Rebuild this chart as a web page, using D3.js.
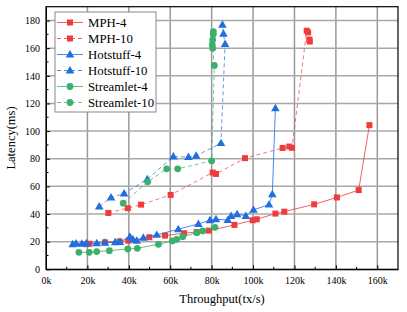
<!DOCTYPE html>
<html><head><meta charset="utf-8">
<script src="https://cdn.jsdelivr.net/npm/d3@7"></script>
<style>body{margin:0;background:#fff}svg{display:block}</style>
</head><body>
<script>
// Data (throughput in k tx/s, latency in ms)
const mph4 = [[19.5,18.2],[21,18.5],[28.5,19.5],[35.5,20.2],[39.8,20.7],[49.9,23.2],[57.5,24.4],[66.7,26.1],[72.8,27],[78.7,28],[91,32.1],[99.8,35.5],[101.8,36.2],[110.8,40.3],[115.1,41.7],[129.5,47],[140.5,52],[151,57.3],[156.2,104.3]];
const mph10 = [[30.1,40.8],[39.5,44.2],[45.9,46.8],[60.2,53.8],[80.5,70],[82.1,69],[96.1,80.4],[114.3,87.8],[117.5,88.8],[118.8,87.9],[125.9,172.6],[126.6,171.4],[127.2,166.2],[127.4,164.8]];
const hot4 = [[12.9,18.1],[14.5,18.7],[17.3,18.5],[19.5,18.8],[24.5,18.8],[28.5,19.2],[33.4,19.6],[35.7,19.8],[40.5,23.6],[42,21.5],[43.8,20.7],[47,22.9],[53.5,24.9],[63.9,29],[73.6,32.8],[79.2,35.5],[82.1,36.2],[87.8,35.7],[89.4,38.6],[92.3,39.9],[96.5,38.6],[100.2,43],[107.7,46.8],[109.3,54.3],[110.8,116.6]];
const hot10 = [[25.7,45.4],[31.4,51.9],[37.7,54.8],[48.9,65.2],[61.5,81.6],[68.8,81.2],[72.5,82.1],[84.5,91.3],[86.5,163],[85.7,170.5],[85.2,177]];
const str4 = [[15.9,12.3],[20.9,12.3],[24.5,12.8],[30.6,13.5],[39.5,14.7],[44.1,15.2],[54.3,18.1],[61,20.5],[63.1,21.7],[66,23.6],[72.8,26.5],[75.7,27.8],[81.6,30.4]];
const str10 = [[37.3,47.8],[49.1,63.3],[58.3,72.7],[63.6,72.7],[80,78.5],[81.3,147.5],[80.5,160],[80.3,162.5],[80.5,166],[80.8,170],[80.8,172]];
const seriesNames = ["MPH-4","MPH-10","Hotstuff-4","Hotstuff-10","Streamlet-4","Streamlet-10"];
const xTicks = [0,20,40,60,80,100,120,140,160];
const yTicks = [0,20,40,60,80,100,120,140,160,180];

const red="#ef3b3b", blue="#1f6fe0", green="#3cb06a";
const series = [
  {name:seriesNames[0], data:mph4, color:red, dash:null, shape:"square"},
  {name:seriesNames[1], data:mph10, color:red, dash:"4,3", shape:"square"},
  {name:seriesNames[2], data:hot4, color:blue, dash:null, shape:"triangle"},
  {name:seriesNames[3], data:hot10, color:blue, dash:"4,3", shape:"triangle"},
  {name:seriesNames[4], data:str4, color:green, dash:null, shape:"circle"},
  {name:seriesNames[5], data:str10, color:green, dash:"4,3", shape:"circle"}
];

const W=407,H=312;
const svg=d3.select("body").append("svg").attr("width",W).attr("height",H);
const x=d3.scaleLinear().domain([0,170]).range([46,398]);
const y=d3.scaleLinear().domain([0,190]).range([269.3,6.7]);
const font="'Liberation Serif','Times New Roman',serif";

// grid
const g=svg.append("g");
g.selectAll(".vg").data(xTicks.filter(d=>d>0)).join("line")
  .attr("x1",d=>x(d)).attr("x2",d=>x(d)).attr("y1",y(0)).attr("y2",y(190))
  .attr("stroke","#9a9a9a").attr("stroke-width",1.5);
g.selectAll(".hg").data(yTicks.filter(d=>d>0)).join("line")
  .attr("y1",d=>y(d)).attr("y2",d=>y(d)).attr("x1",x(0)).attr("x2",x(170))
  .attr("stroke","#a8a8a8").attr("stroke-width",1.5);

// axes with inward ticks
const xAxis=d3.axisBottom(x).tickValues(xTicks).tickFormat(d=>d+"k").tickSizeInner(-4).tickSizeOuter(0).tickPadding(8);
const xa=svg.append("g").attr("transform",`translate(0,${y(0)})`).call(xAxis);
const yAxis=d3.axisLeft(y).tickValues(yTicks).tickSizeInner(-4).tickSizeOuter(0).tickPadding(6);
const ya=svg.append("g").attr("transform",`translate(${x(0)},0)`).call(yAxis);
[xa,ya].forEach(a=>{a.selectAll("text").attr("font-family",font).attr("font-size",10).attr("fill","#000");a.select(".domain").attr("stroke","#000");a.selectAll(".tick line").attr("stroke","#000");});
// minor ticks
const xMinor=d3.range(10,170,20);
svg.selectAll(".xm").data(xMinor).join("line").attr("x1",d=>x(d)).attr("x2",d=>x(d)).attr("y1",y(0)).attr("y2",y(0)-2.5).attr("stroke","#000");
const yMinor=d3.range(10,190,20);
svg.selectAll(".ym").data(yMinor).join("line").attr("y1",d=>y(d)).attr("y2",d=>y(d)).attr("x1",x(0)).attr("x2",x(0)+2.5).attr("stroke","#000");
// frame
svg.append("rect").attr("x",x(0)).attr("y",y(190)).attr("width",x(170)-x(0)).attr("height",y(0)-y(190)).attr("fill","none").attr("stroke","#000").attr("stroke-width",1.2);

// axis titles
svg.append("text").attr("x",222).attr("y",303).attr("text-anchor","middle").attr("font-family",font).attr("font-size",12.5).text("Throughput(tx/s)");
svg.append("text").attr("transform",`translate(15,${y(95)}) rotate(-90)`).attr("text-anchor","middle").attr("font-family",font).attr("font-size",12.5).text("Latency(ms)");

function marker(sel,shape,color,cx,cy){
  if(shape==="square") sel.append("rect").attr("x",cx-3).attr("y",cy-3).attr("width",6).attr("height",6).attr("fill",color);
  else if(shape==="triangle") sel.append("path").attr("d",d3.symbol().type(d3.symbolTriangle).size(32)()).attr("transform",`translate(${cx},${cy+0.5})`).attr("fill",color);
  else sel.append("circle").attr("cx",cx).attr("cy",cy).attr("r",3.4).attr("fill",color);
}

const line=d3.line().x(d=>x(d[0])).y(d=>y(d[1]));
series.forEach(s=>{
  const sg=svg.append("g");
  sg.append("path").attr("d",line(s.data)).attr("fill","none").attr("stroke",s.color).attr("stroke-width",1).attr("stroke-opacity",s.dash?0.7:0.8).attr("stroke-dasharray",s.dash);
  s.data.forEach(d=>marker(sg,s.shape,s.color,x(d[0]),y(d[1])));
});

// legend
const lg=svg.append("g");
lg.append("rect").attr("x",55).attr("y",12).attr("width",101).attr("height",100).attr("fill","#fff").attr("stroke","#888").attr("stroke-width",1);
series.forEach((s,i)=>{
  const yy=22.5+i*16;
  lg.append("line").attr("x1",57).attr("x2",83).attr("y1",yy).attr("y2",yy).attr("stroke",s.color).attr("stroke-opacity",0.8).attr("stroke-dasharray",s.dash);
  marker(lg,s.shape,s.color,70,yy);
  lg.append("text").attr("x",88).attr("y",yy+4.5).attr("font-family",font).attr("font-size",12.8).text(s.name);
});
</script>
</body></html>
